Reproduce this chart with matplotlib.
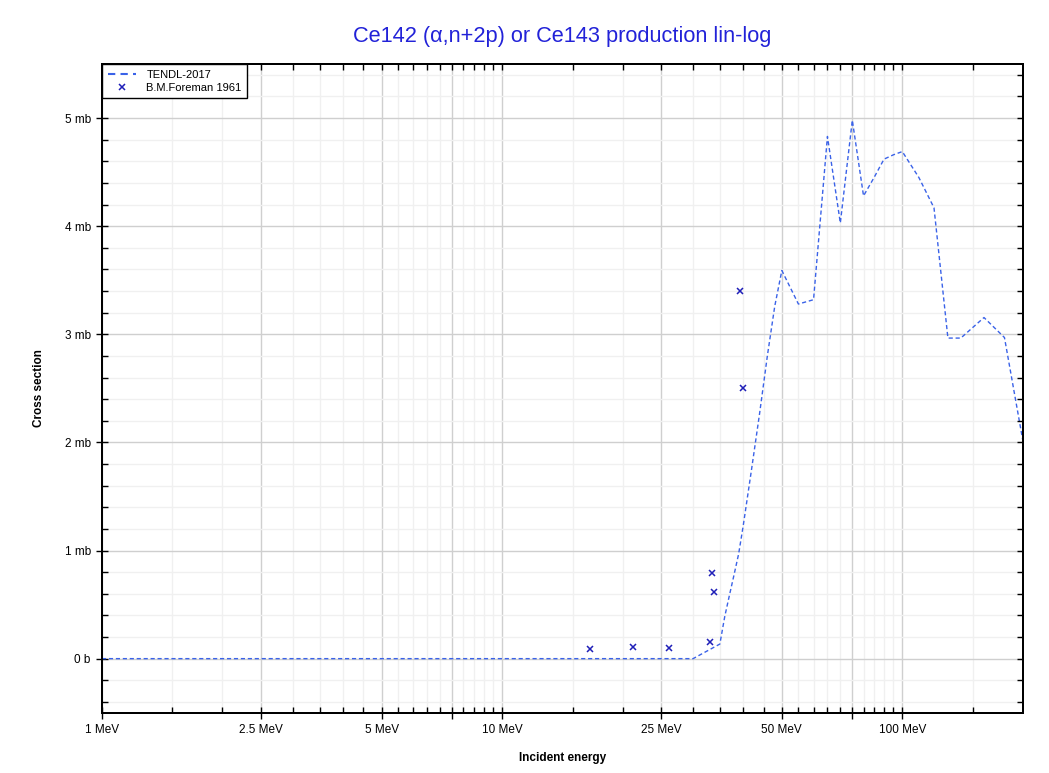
import numpy as np
import matplotlib
matplotlib.use("Agg")
import matplotlib.pyplot as plt
from matplotlib.ticker import FixedLocator, FixedFormatter, MultipleLocator, NullFormatter

plt.rcParams['font.family'] = ['Liberation Sans', 'DejaVu Sans']

# TENDL-2017 evaluation (energy in MeV, cross section in mb)
tendl_e = [1.0, 30.0, 35.0, 36.0, 37.0, 38.0, 39.0, 40.0, 42.0, 44.0, 46.0, 48.0, 50.0,
           55.0, 60.0, 65.0, 70.0, 75.0, 80.0, 85.0, 90.0, 95.0, 100.0, 110.0, 120.0,
           130.0, 140.0, 160.0, 180.0, 200.0]
tendl_xs = [0.0, 0.0, 0.135, 0.39, 0.59, 0.78, 0.97, 1.22, 1.75, 2.27, 2.80, 3.26, 3.59,
            3.28, 3.32, 4.83, 4.03, 4.98, 4.28, 4.45, 4.62, 4.66, 4.69, 4.45, 4.17,
            2.965, 2.965, 3.155, 2.97, 2.02]

# B.M.Foreman 1961 measurements
exp_e = [16.6, 21.2, 26.1, 33.1, 33.4, 33.9, 39.3, 40.1]
exp_xs = [0.089, 0.11, 0.098, 0.154, 0.79, 0.62, 3.40, 2.50]

x_major = [1, 2.5, 5, 7.5, 10, 25, 50, 75, 100]
x_major_labels = ["1 MeV", "2.5 MeV", "5 MeV", "", "10 MeV", "25 MeV", "50 MeV", "", "100 MeV"]
x_minor = [1.5, 2, 3, 3.5, 4, 4.5, 5.5, 6, 6.5, 7, 8, 8.5, 9, 9.5,
           15, 20, 30, 35, 40, 45, 55, 60, 65, 70, 80, 85, 90, 95, 150]
y_major = [0, 1, 2, 3, 4, 5]
y_major_labels = ["0 b", "1 mb", "2 mb", "3 mb", "4 mb", "5 mb"]

fig = plt.figure(figsize=(10.49, 7.73), dpi=100)
ax = fig.add_axes([0.0972, 0.078, 0.8778, 0.8392])

ax.plot(tendl_e, tendl_xs, color="#3a62e8", lw=1.0, linestyle=(0, (3, 2)), label="TENDL-2017")
ax.plot(exp_e, exp_xs, linestyle="none", marker="x", color="#1f1fb8", markersize=5,
        markeredgewidth=1.1, label="B.M.Foreman 1961")

ax.set_xscale("log")
ax.set_xlim(1, 200)
ax.set_ylim(-0.5, 5.5)

ax.xaxis.set_major_locator(FixedLocator(x_major))
ax.xaxis.set_major_formatter(FixedFormatter(x_major_labels))
ax.xaxis.set_minor_locator(FixedLocator(x_minor))
ax.xaxis.set_minor_formatter(NullFormatter())
ax.yaxis.set_major_locator(FixedLocator(y_major))
ax.yaxis.set_major_formatter(FixedFormatter(y_major_labels))
ax.yaxis.set_minor_locator(MultipleLocator(0.2))

ax.grid(which="major", color="#cfcfcf", lw=1.0)
ax.grid(which="minor", color="#f0f0f0", lw=1.0)
ax.set_axisbelow(True)

ax.tick_params(which="major", direction="inout", length=8, width=1, labelsize=8.5, pad=4)
ax.tick_params(which="minor", direction="in", length=4, width=1)
for s in ax.spines.values():
    s.set_linewidth(1.3)

# top and right: inward ticks only
axt = ax.twiny()
axt.set_xscale("log")
axt.set_xlim(ax.get_xlim())
axt.xaxis.set_major_locator(FixedLocator(x_major))
axt.xaxis.set_minor_locator(FixedLocator(x_minor))
axt.xaxis.set_major_formatter(NullFormatter())
axt.xaxis.set_minor_formatter(NullFormatter())
axt.tick_params(which="both", direction="in", length=4, width=1)
axr = ax.twinx()
axr.set_ylim(ax.get_ylim())
axr.yaxis.set_major_locator(FixedLocator(y_major))
axr.yaxis.set_minor_locator(MultipleLocator(0.2))
axr.yaxis.set_major_formatter(NullFormatter())
axr.tick_params(which="both", direction="in", length=4, width=1)
for a in (axt, axr):
    for s in a.spines.values():
        s.set_linewidth(1.3)

ax.set_xlabel("Incident energy", fontsize=8.5, fontweight="bold", labelpad=12)
ax.set_ylabel("Cross section", fontsize=8.5, fontweight="bold", labelpad=14)
axt.set_title("Ce142 (α,n+2p) or Ce143 production lin-log", color="#2222d8", fontsize=15.7, pad=16)

handles, labels = ax.get_legend_handles_labels()
leg = axr.legend(handles, labels, loc="upper left", fontsize=8, frameon=True, fancybox=False,
                 borderaxespad=0, handlelength=2.6, handletextpad=0.9,
                 borderpad=0.5, labelspacing=0.3)
leg.get_frame().set_edgecolor("black")
leg.get_frame().set_linewidth(1.0)
leg.get_frame().set_alpha(1.0)
leg.get_lines()[0].set_linewidth(1.5)
leg.get_lines()[0].set_linestyle((0, (3.5, 2.5)))

fig.savefig("out.png", dpi=100)
